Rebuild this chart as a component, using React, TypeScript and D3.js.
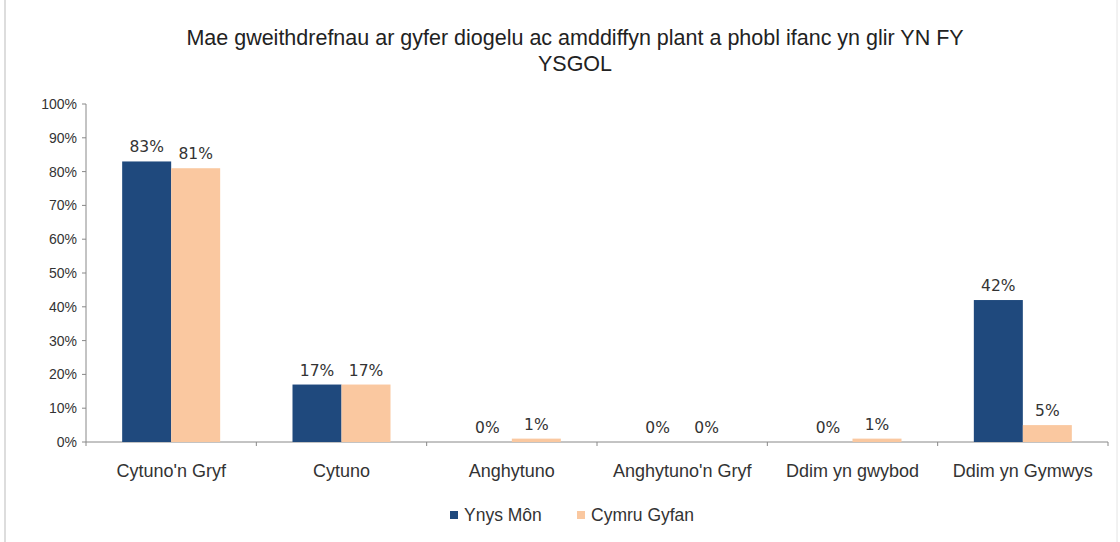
import { useMemo } from 'react';
import * as d3 from 'd3';

// Chart data
const categories = ["Cytuno'n Gryf", 'Cytuno', 'Anghytuno', "Anghytuno'n Gryf", 'Ddim yn gwybod', 'Ddim yn Gymwys'];
const seriesNames = ['Ynys Môn', 'Cymru Gyfan'];
const ynysMon = [83, 17, 0, 0, 0, 42];
const cymruGyfan = [81, 17, 1, 0, 1, 5];
const yTicks = [0, 10, 20, 30, 40, 50, 60, 70, 80, 90, 100];
const titleLines = ['Mae gweithdrefnau ar gyfer diogelu ac amddiffyn plant a phobl ifanc yn glir YN FY', 'YSGOL'];

const colors = ['#1F497D', '#FAC8A0'];
const font = "'Liberation Sans', Arial, sans-serif";

const W = 1120;
const H = 542;
const plot = { left: 86, right: 1108, top: 104, bottom: 442 };

export default function App() {
	const x = useMemo(() => d3.scaleBand<string>().domain(categories).range([plot.left, plot.right]).paddingInner(0).paddingOuter(0), []);
	const y = useMemo(() => d3.scaleLinear().domain([0, 100]).range([plot.bottom, plot.top]), []);
	const inner = useMemo(() => d3.scaleBand<number>().domain([0, 1]).range([0, 98]), []);

	const series = [ynysMon, cymruGyfan];

	return (
		<svg width={W} height={H} style={{ position: 'absolute', left: 0, top: 0, background: '#fff' }}>
			<line x1={5} x2={5} y1={0} y2={H} stroke="#bbb" />
			<line x1={1117} x2={1117} y1={0} y2={H} stroke="#e4e4e4" />

			{/* title */}
			<text x={575} textAnchor="middle" fontFamily={font} fontSize={21.5} fill="#222">
				{titleLines.map((t, i) => (
					<tspan key={i} x={575} y={45 + i * 26}>
						{t}
					</tspan>
				))}
			</text>

			{/* y axis */}
			<line x1={plot.left} x2={plot.left} y1={plot.top} y2={plot.bottom} stroke="#888" />
			{yTicks.map((t) => (
				<g key={t}>
					<line x1={plot.left - 4} x2={plot.left} y1={y(t)} y2={y(t)} stroke="#888" />
					<text x={plot.left - 9} y={y(t) + 5} textAnchor="end" fontFamily={font} fontSize={14} fill="#333">
						{t}%
					</text>
				</g>
			))}

			{/* x axis */}
			<line x1={plot.left} x2={plot.right} y1={plot.bottom} y2={plot.bottom} stroke="#888" />
			{categories.map((c) => (
				<line key={c} x1={x(c)!} x2={x(c)!} y1={plot.bottom} y2={plot.bottom + 4} stroke="#888" />
			))}
			<line x1={plot.right} x2={plot.right} y1={plot.bottom} y2={plot.bottom + 4} stroke="#888" />
			{categories.map((c) => (
				<text key={c} x={x(c)! + x.bandwidth() / 2} y={477} textAnchor="middle" fontFamily={font} fontSize={18} fill="#333">
					{c}
				</text>
			))}

			{/* bars */}
			{categories.map((c, i) => {
				const gx = x(c)! + x.bandwidth() / 2 - 49;
				return (
					<g key={c}>
						{series.map((s, j) => {
							const bx = gx + inner(j)!;
							const bw = inner.bandwidth();
							return (
								<g key={j}>
									<rect x={bx} y={y(s[i])} width={bw} height={plot.bottom - y(s[i])} fill={colors[j]} />
									<text x={bx + bw / 2} y={y(s[i]) - 9} textAnchor="middle" fontFamily="'DejaVu Sans', Verdana, sans-serif" fontSize={15.5} fill="#333">
										{s[i]}%
									</text>
								</g>
							);
						})}
					</g>
				);
			})}

			{/* legend */}
			{seriesNames.map((n, j) => {
				const lx = j === 0 ? 450 : 577;
				return (
					<g key={n}>
						<rect x={lx} y={511} width={8} height={8} fill={colors[j]} />
						<text x={lx + 14} y={521} fontFamily={font} fontSize={17.5} fill="#333">
							{n}
						</text>
					</g>
				);
			})}
		</svg>
	);
}
